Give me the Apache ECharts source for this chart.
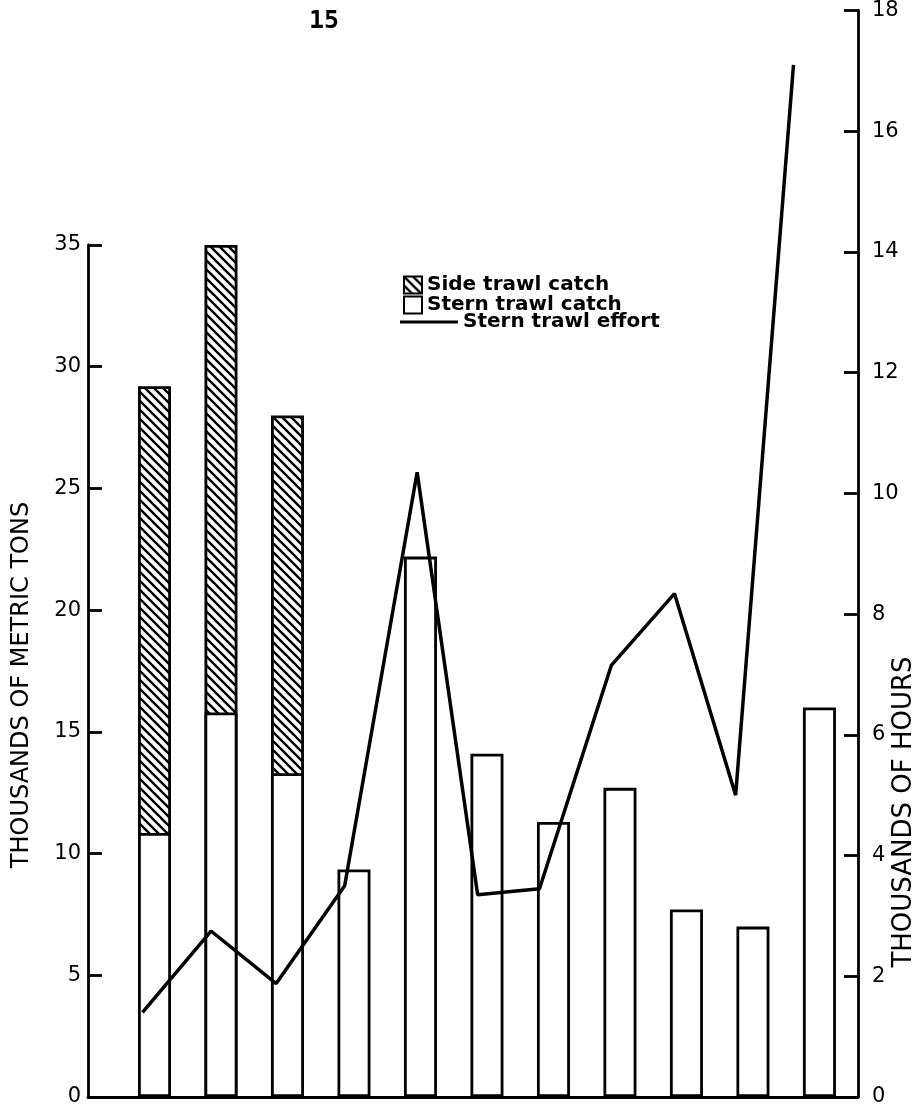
<!DOCTYPE html>
<html>
<head>
<meta charset="utf-8">
<script src="https://cdn.jsdelivr.net/npm/echarts@6/dist/echarts.min.js"></script>
<style>
html,body{margin:0;padding:0;background:#fff;}
#chart{width:918px;height:1108px;}
</style>
</head>
<body>
<div id="chart"></div>
<script>
// ---- data ----
var categories = ['1','2','3','4','5','6','7','8','9','10','11'];
var sternCatch = [10.85, 15.8, 13.3, 9.35, 22.2, 14.1, 11.3, 12.7, 7.7, 7.0, 16.0];   // thousands of metric tons
var sideCatch  = [18.35, 19.2, 14.7, 0, 0, 0, 0, 0, 0, 0, 0];                      // thousands of metric tons
var effortPos  = [0.82, 1.85, 2.83, 3.86, 4.95, 5.86, 6.79, 7.87, 8.82, 9.74, 10.61]; // position along the category scale
var sternEffort = [1.4, 2.75, 1.88, 3.5, 10.35, 3.35, 3.45, 7.15, 8.34, 5.0, 17.1];  // thousands of hours
var leftTicks = [0, 5, 10, 15, 20, 25, 30, 35];
var rightTicks = [0, 2, 4, 6, 8, 10, 12, 14, 16, 18];

// ---- hatch pattern ----
function hatch() {
  var c = document.createElement('canvas');
  c.width = 9; c.height = 9;
  var g = c.getContext('2d');
  g.fillStyle = '#fff'; g.fillRect(0, 0, 9, 9);
  g.strokeStyle = '#000'; g.lineWidth = 2.4; g.lineCap = 'square';
  g.beginPath();
  g.moveTo(-9, -9); g.lineTo(18, 18);
  g.moveTo(-9, 0); g.lineTo(9, 18);
  g.moveTo(0, -9); g.lineTo(18, 9);
  g.stroke();
  return c;
}
var hatchFill = { image: hatch(), repeat: 'repeat' };

var sternData = sternCatch.map(function (v, i) { return [i + 1, v]; });
// side trawl catch sits on top of the stern trawl catch: the hatched bar reaches the total
var totalData = sideCatch.map(function (v, i) { return [i + 1, v > 0 ? sternCatch[i] + v : null]; });
var lineData = sternEffort.map(function (v, i) { return [effortPos[i], v]; });

var font = 'DejaVu Sans';
var legendText = { fontFamily: font, fontSize: 20, color: '#000', fontWeight: 'bold' };
var chart = echarts.init(document.getElementById('chart'), null, { renderer: 'canvas' });
chart.setOption({
  backgroundColor: '#fff',
  animation: false,
  textStyle: { fontFamily: font, color: '#000' },
  grid: [
    { left: 88, right: 60, top: 245, bottom: 11 },
    { left: 88, right: 60, top: 7, bottom: 11 }
  ],
  xAxis: [
    { type: 'value', gridIndex: 0, min: 0, max: 11.58, splitLine: { show: false },
      axisLine: { show: true, onZero: false, lineStyle: { color: '#000', width: 2.8 } },
      axisTick: { show: false }, axisLabel: { show: false } },
    { type: 'value', gridIndex: 1, min: 0, max: 11.58, show: false }
  ],
  yAxis: [
    { type: 'value', gridIndex: 0, min: 0, max: 35, interval: 5, position: 'left',
      axisLine: { show: true, onZero: false, lineStyle: { color: '#000', width: 2.8 } },
      axisTick: { show: true, inside: true, length: 14, lineStyle: { color: '#000', width: 2.8 } },
      axisLabel: { color: '#000', fontSize: 21, margin: 7, fontFamily: font,
        formatter: function (v) { return leftTicks.indexOf(v) >= 0 ? String(v) : ''; } },
      splitLine: { show: false } },
    { type: 'value', gridIndex: 1, min: 0, max: 18, interval: 2, position: 'right',
      axisLine: { show: true, onZero: false, lineStyle: { color: '#000', width: 2.8 } },
      axisTick: { show: true, inside: true, length: 14, lineStyle: { color: '#000', width: 2.8 } },
      axisLabel: { color: '#000', fontSize: 21, margin: 14, fontFamily: font,
        formatter: function (v) { return rightTicks.indexOf(v) >= 0 ? String(v) : ''; } },
      splitLine: { show: false } }
  ],
  legend: [
    { orient: 'vertical', left: 398, top: 270, itemGap: 0,
      itemWidth: 18, itemHeight: 17, textStyle: legendText,
      data: [
        { name: 'Side trawl catch', icon: 'rect',
          itemStyle: { color: hatchFill, borderColor: '#000', borderWidth: 2 } },
        { name: 'Stern trawl catch', icon: 'rect',
          itemStyle: { color: '#fff', borderColor: '#000', borderWidth: 2 } }
      ] },
    { orient: 'vertical', left: 395, top: 307,
      itemWidth: 58, itemHeight: 17, symbolKeepAspect: true, textStyle: legendText,
      data: [
        { name: 'Stern trawl effort', icon: 'path://M0,0L100,0L100,5L0,5Z',
          itemStyle: { color: '#000', borderWidth: 0 } }
      ] }
  ],
  graphic: [
    { type: 'text', x: 309, y: 9, style: { text: '15', font: 'bold 25px "DejaVu Sans Mono"', fill: '#000' } },
    { type: 'text', x: 22, y: 685, rotation: Math.PI / 2,
      style: { text: 'THOUSANDS OF METRIC TONS', font: '24px "DejaVu Sans"', fill: '#000', align: 'center', verticalAlign: 'middle' } },
    { type: 'text', x: 904, y: 812, rotation: Math.PI / 2,
      style: { text: 'THOUSANDS OF HOURS', font: '26px "DejaVu Sans"', fill: '#000', align: 'center', verticalAlign: 'middle' } }
  ],
  series: [
    { name: 'Side trawl catch', type: 'bar', xAxisIndex: 0, yAxisIndex: 0,
      barWidth: 33, barGap: '-100%', data: totalData, z: 2,
      itemStyle: { color: hatchFill, borderColor: '#000', borderWidth: 2.8 } },
    { name: 'Stern trawl catch', type: 'bar', xAxisIndex: 0, yAxisIndex: 0,
      barWidth: 33, barGap: '-100%', data: sternData, z: 3,
      itemStyle: { color: '#fff', borderColor: '#000', borderWidth: 2.8 } },
    { name: 'Stern trawl effort', type: 'line', xAxisIndex: 1, yAxisIndex: 1,
      data: lineData, symbol: 'none', z: 5,
      lineStyle: { color: '#000', width: 3.5 }, itemStyle: { color: '#000' } }
  ]
});
</script>
</body>
</html>
